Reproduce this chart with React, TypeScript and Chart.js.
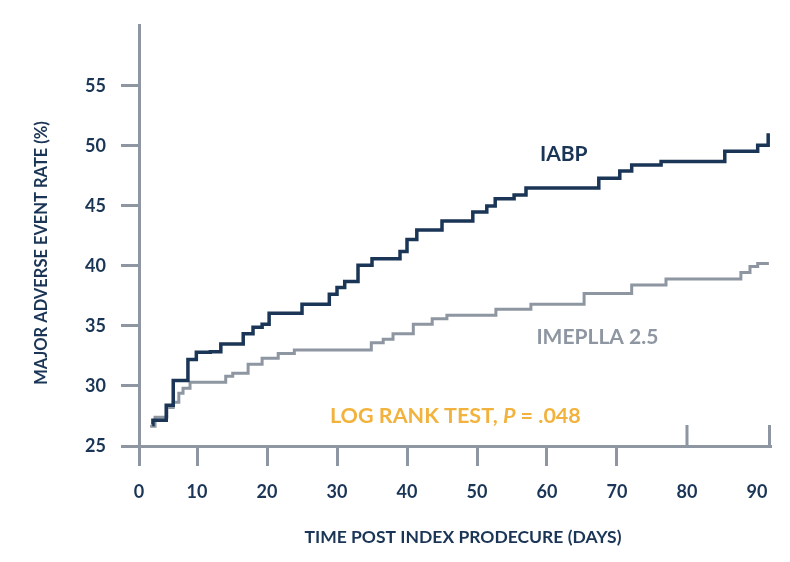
import React, { useEffect, useRef } from "react";
import { Chart, registerables } from "chart.js";

Chart.register(...registerables);

// ---- data ----
const iabpDays = [3.6, 3.7, 5.6, 6.6, 8.7, 9.9, 11.9, 13.4, 16.6, 18.0, 19.3, 20.3, 25.0, 28.9, 30.0, 31.1, 33.0, 35.0, 39.0, 40.0, 41.4, 45.0, 49.4, 51.4, 52.6, 55.3, 57.0, 67.4, 70.4, 72.1, 76.3, 85.4, 90.1, 91.6];
const iabpRates = [26.8, 27.15, 28.4, 30.45, 32.2, 32.8, 32.85, 33.5, 34.35, 34.9, 35.15, 36.05, 36.8, 37.65, 38.2, 38.7, 40.05, 40.6, 41.2, 42.2, 43.0, 43.75, 44.5, 45.0, 45.6, 45.9, 46.5, 47.3, 47.9, 48.4, 48.7, 49.55, 50.05, 51.05];
const impellaDays = [3.3, 4.0, 5.7, 6.6, 7.4, 8.0, 9.0, 14.1, 15.1, 17.3, 19.3, 21.6, 23.9, 34.9, 36.6, 38.0, 40.9, 43.6, 45.7, 52.7, 57.7, 65.3, 72.1, 77.0, 87.7, 89.0, 90.1, 91.7];
const impellaRates = [26.65, 27.4, 28.2, 28.65, 29.4, 29.8, 30.3, 30.8, 31.05, 31.8, 32.3, 32.7, 33.0, 33.6, 33.9, 34.35, 35.15, 35.6, 35.9, 36.4, 36.8, 37.7, 38.4, 38.9, 39.45, 39.95, 40.2, 40.2];
const xTickValues = [10, 20, 30, 40, 50, 60, 70, 80, 90];
const yTickValues = [25, 30, 35, 40, 45, 50, 55];
const seriesNames = ["IABP", "IMEPLLA 2.5"];
const xTitle = "TIME POST INDEX PRODECURE (DAYS)";
const yTitle = "MAJOR ADVERSE EVENT RATE (%)";
const X_MIN = 1.71;
const X_MAX = 91.86;

const NAVY = "#1a3556";
const GRAY = "#8d96a1";
const ORANGE = "#f2b33e";
const FONT = "Lato, 'Open Sans', sans-serif";

export default function App() {
  const ref = useRef<HTMLCanvasElement | null>(null);

  useEffect(() => {
    const canvas = ref.current;
    if (!canvas) return;

    const overlay = {
      id: "overlay",
      afterDraw(chart: any) {
        const ctx = chart.ctx;
        const xs = chart.scales.x;
        const ys = chart.scales.y;
        const area = chart.chartArea;
        ctx.save();
        // inward ticks at 80 and axis end
        ctx.strokeStyle = GRAY;
        ctx.lineWidth = 3;
        const inward = [xs.getPixelForValue(80), area.right - 0.5];
        inward.forEach((px: number) => {
          ctx.beginPath();
          ctx.moveTo(px, area.bottom);
          ctx.lineTo(px, area.bottom - 21);
          ctx.stroke();
        });
        // axis titles
        ctx.fillStyle = NAVY;
        ctx.textAlign = "center";
        ctx.textBaseline = "middle";
        ctx.font = `bold 17.5px ${FONT}`;
        ctx.fillText(xTitle, 463, 537);
        ctx.save();
        ctx.translate(42, 253);
        ctx.rotate(-Math.PI / 2);
        ctx.font = `bold 16.5px ${FONT}`;
        ctx.fillText(yTitle, 0, 0);
        ctx.restore();
        // series labels
        ctx.font = `bold 21px ${FONT}`;
        ctx.fillStyle = NAVY;
        ctx.fillText(seriesNames[0], xs.getPixelForValue(62.4), ys.getPixelForValue(49.3));
        ctx.fillStyle = GRAY;
        ctx.fillText(seriesNames[1], xs.getPixelForValue(67.2), ys.getPixelForValue(34.1));
        // log rank
        ctx.fillStyle = ORANGE;
        ctx.textAlign = "left";
        const y0 = ys.getPixelForValue(27.5);
        let x0 = 330;
        ctx.font = `bold 21.5px ${FONT}`;
        const t1 = "LOG RANK TEST, ";
        ctx.fillText(t1, x0, y0);
        x0 += ctx.measureText(t1).width;
        ctx.font = `italic bold 21.5px ${FONT}`;
        ctx.fillText("P", x0, y0);
        x0 += ctx.measureText("P").width;
        ctx.font = `bold 21.5px ${FONT}`;
        ctx.fillText(" = .048", x0, y0);
        ctx.restore();
      },
    };

    const chart = new Chart(canvas, {
      type: "line",
      data: {
        datasets: [
          {
            label: seriesNames[0],
            data: iabpDays.map((d, i) => ({ x: d, y: iabpRates[i] })),
            borderColor: NAVY,
            borderWidth: 3.5,
            stepped: true,
            pointRadius: 0,
            fill: false,
          },
          {
            label: seriesNames[1],
            data: impellaDays.map((d, i) => ({ x: d, y: impellaRates[i] })),
            borderColor: GRAY,
            borderWidth: 3,
            stepped: true,
            pointRadius: 0,
            fill: false,
          },
        ],
      },
      options: {
        responsive: false,
        animation: false,
        devicePixelRatio: 1,
        layout: { padding: { top: 22, right: 20, left: 0, bottom: 0 } },
        plugins: { legend: { display: false }, tooltip: { enabled: false } },
        scales: {
          x: {
            type: "linear",
            min: X_MIN,
            max: X_MAX,
            afterBuildTicks: (scale: any) => {
              scale.ticks = [{ value: X_MIN }, ...xTickValues.map((v) => ({ value: v }))];
            },
            afterFit: (scale: any) => {
              scale.height = 116;
            },
            ticks: {
              autoSkip: false,
              maxRotation: 0,
              padding: 15,
              color: NAVY,
              font: { family: FONT, size: 18, weight: "bold" },
              callback: (v: any) => (Math.abs(v - X_MIN) < 0.01 ? "0" : String(v)),
            },
            grid: {
              drawOnChartArea: false,
              drawTicks: true,
              tickLength: 20,
              lineWidth: 3,
              color: (ctx: any) => (ctx.tick && ctx.tick.value >= 80 ? "rgba(0,0,0,0)" : GRAY),
            },
            border: { display: true, color: GRAY, width: 3 },
          },
          y: {
            type: "linear",
            min: 25,
            max: 60,
            afterBuildTicks: (scale: any) => {
              scale.ticks = yTickValues.map((v) => ({ value: v }));
            },
            afterFit: (scale: any) => {
              scale.width = 139;
            },
            ticks: {
              padding: 15,
              color: NAVY,
              font: { family: FONT, size: 18, weight: "bold" },
            },
            grid: {
              drawOnChartArea: false,
              drawTicks: true,
              tickLength: 18,
              lineWidth: 3,
              color: GRAY,
            },
            border: { display: true, color: GRAY, width: 3 },
          },
        },
      },
      plugins: [overlay],
    });
    return () => chart.destroy();
  }, []);

  return (
    <div style={{ position: "fixed", left: 0, top: 0, width: 790, height: 562, background: "#fff" }}>
      <canvas ref={ref} width={790} height={562} style={{ width: 790, height: 562, display: "block" }} />
    </div>
  );
}
